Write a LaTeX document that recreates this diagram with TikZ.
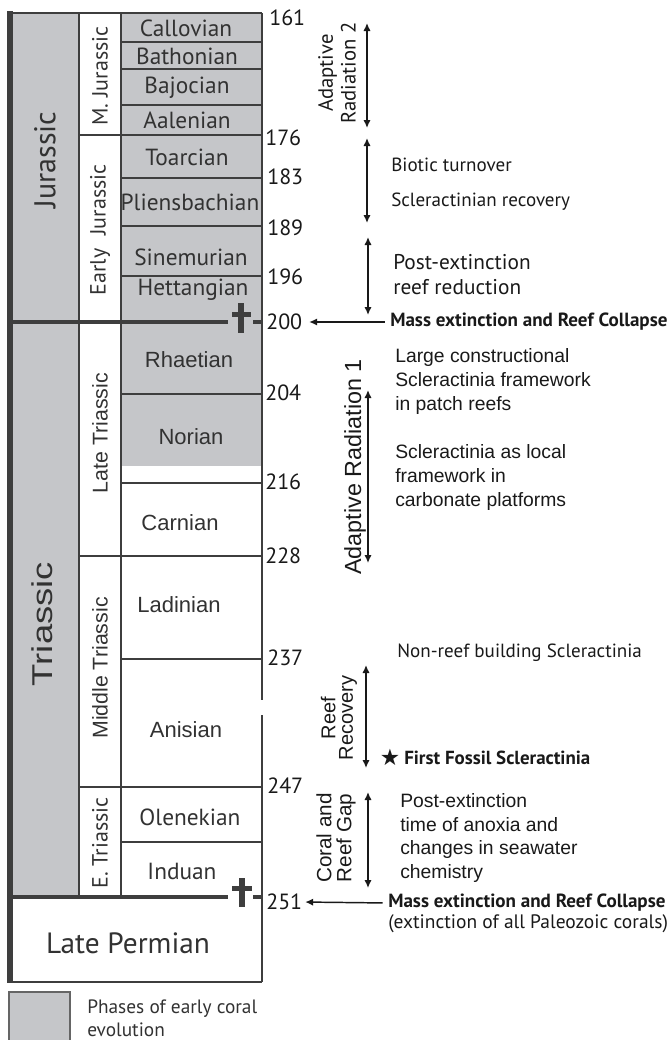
\documentclass[tikz,border=0pt]{standalone}
\usepackage{fontspec}
\setmainfont{Liberation Sans}
\newfontfamily\myr{PT Sans}
\newfontfamily\symf{DejaVu Sans}
\usetikzlibrary{arrows.meta}
\definecolor{fillg}{RGB}{197,198,201}
\definecolor{ln}{RGB}{62,62,62}
\definecolor{txt}{RGB}{50,50,50}
\definecolor{txtd}{RGB}{25,25,25}
\newcommand\fz[2]{\fontsize{#1}{#2}\selectfont}
\begin{document}
\begin{tikzpicture}[x=0.75pt,y=-0.75pt,
  myrs/.style={font=\myr\fz{17.5}{19}, text=txt, inner sep=0},
  ars/.style={font=\fz{16.5}{19}, text=txt, inner sep=0},
  num/.style={font=\myr\fz{16.5}{19}, text=txtd, anchor=west, inner sep=0},
  note/.style={font=\myr\fz{14.3}{18.5}, text=txtd, anchor=west, inner sep=0, align=left},
  anote/.style={font=\fz{14.5}{17.8}, text=txtd, anchor=west, inner sep=0, align=left},
  bnote/.style={font=\myr\bfseries\fz{14.3}{17}, text=txtd, anchor=west, inner sep=0},
  rlab/.style={rotate=90, align=center, text=txtd, inner sep=0},
  bline/.style={draw=ln, line width=1.5pt},
  kline/.style={draw=ln, line width=2.3pt},
  darr/.style={{Latex[length=6pt,width=5.5pt]}-{Latex[length=6pt,width=5.5pt]}, line width=1.1pt, draw=txtd},
  larr/.style={-{Latex[length=6pt,width=5.5pt]}, line width=1.1pt, draw=txtd},
]
\useasboundingbox (0,0) rectangle (671,1040);

% fills
\fill[fillg] (13,13) rectangle (79,897);
\fill[fillg] (121,13) rectangle (262,466);

% frame lines
\draw[bline] (7,13) -- (262,13);
\draw[bline] (79,13) -- (79,897);
\draw[bline] (121,13) -- (121,897);
\draw[bline] (262,13) -- (262,700);
\draw[bline] (262,715) -- (262,982);
\draw[bline] (7,982) -- (262,982);
\draw[draw=ln, line width=4.5pt] (10,11) -- (10,983);

% stage boundaries
\foreach \yy in {42,69,105,178,226,276,394,483,659,842}
  \draw[bline] (121,\yy) -- (262,\yy);
\foreach \yy in {135,556,787}
  \draw[bline] (79,\yy) -- (262,\yy);

% extinction lines and daggers
\draw[kline] (13,322) -- (228,322);
\draw[kline] (253,322) -- (262,322);
\fill[ln] (238,303) rectangle (244,333);
\fill[ln] (232,312) rectangle (251,317);
\draw[kline] (13,897) -- (228,897);
\draw[kline] (253,897) -- (262,897);
\fill[ln] (239,878) rectangle (245,907);
\fill[ln] (232,886) rectangle (252,891);

% period labels
\node[rotate=90, font=\myr\fz{22.5}{24}, text=txt, inner sep=0] (jur) at (45,160) {Jurassic};
\node[rotate=90, font=\fz{21.5}{24}, text=txt, inner sep=0] (tri) at (42,624) {\scalebox{1.27}[1]{Triassic}};
\node[myrs, font=\myr\fz{22}{24}] (perm) at (128,943) {Late Permian};

% epoch labels
\node[myrs, font=\myr\fz{16.5}{19}, rotate=90] (mjur) at (100,76) {M. Jurassic};
\node[myrs, font=\myr\fz{16.5}{19}, rotate=90] (ejur) at (100,230) {Early\hspace{0.6em}Jurassic};
\node[ars, font=\fz{16}{19}, rotate=90] (ltri) at (100,433) {Late Triassic};
\node[ars, font=\fz{16}{19}, rotate=90] (mtri) at (100,668) {Middle Triassic};
\node[myrs, font=\myr\fz{16.5}{19}, rotate=90] (etri) at (100,843) {E. Triassic};

% stages
\node[myrs] (callovian) at (186,28) {Callovian};
\node[myrs] (bathonian) at (187,56) {Bathonian};
\node[myrs] (bajocian) at (187,88) {Bajocian};
\node[myrs] (aalenian) at (187,120) {Aalenian};
\node[myrs] (toarcian) at (187,157) {Toarcian};
\node[myrs] (pliens) at (190,202) {Pliensbachian};
\node[myrs] (sinem) at (191,257) {Sinemurian};
\node[myrs] (hett) at (193,290) {Hettangian};
\node[ars] (rhaet) at (189,360) {Rhaetian};
\node[ars] (norian) at (191,437) {Norian};
\node[ars] (carnian) at (180,523) {Carnian};
\node[ars] (ladin) at (179,605) {Ladinian};
\node[ars] (anis) at (186,730) {Anisian};
\node[myrs] (olen) at (190,817) {Olenekian};
\node[myrs] (induan) at (182,871) {Induan};

% numbers
\node[num] (n161) at (269,18) {161};
\node[num] (n176) at (265,138) {176};
\node[num] (n183) at (267,177) {183};
\node[num] (n189) at (267,228) {189};
\node[num] (n196) at (267,277) {196};
\node[num] (n200) at (266,322) {200};
\node[num] (n204) at (265,393) {204};
\node[num] (n216) at (265,482) {216};
\node[num] (n228) at (265,556) {228};
\node[num] (n237) at (267,658) {237};
\node[num] (n247) at (267,786) {247};
\node[num] (n251) at (266,902) {251};

% right side: vertical labels
\node[rlab, font=\myr\fz{15.5}{17}] (ar2) at (337,73) {Adaptive\\Radiation 2};
\node[rlab, font=\fz{17.5}{19}] (ar1) at (355,467) {Adaptive Radiation 1};
\node[rlab, font=\fz{15}{13}] (rr) at (339,718) {Reef\\Recovery};
\node[rlab, font=\fz{15.5}{15}] (crg) at (336,838) {Coral and\\Reef Gap};

% double arrows
\coordinate (a1t) at (367,23);  \coordinate (a1b) at (367,128);
\coordinate (a2t) at (367,138); \coordinate (a2b) at (367,223);
\coordinate (a3t) at (368,237); \coordinate (a3b) at (368,315);
\coordinate (a4t) at (368,390); \coordinate (a4b) at (368,563);
\coordinate (a5t) at (366,665); \coordinate (a5b) at (366,768);
\coordinate (a6t) at (368,792); \coordinate (a6b) at (368,888);
\draw[darr] (a1t) -- (a1b);
\draw[darr] (a2t) -- (a2b);
\draw[darr] (a3t) -- (a3b);
\draw[darr] (a4t) -- (a4b);
\draw[darr] (a5t) -- (a5b);
\draw[darr] (a6t) -- (a6b);

% right side notes
\node[note] (biotic) at (391,165) {Biotic turnover};
\node[note] (sclrec) at (391,202) {Scleractinian recovery};
\node[note, font=\myr\fz{16}{18.8}] (postex1) at (393,274.5) {Post-extinction\\reef reduction};
\node[bnote] (mass1) at (390,322) {Mass extinction and Reef Collapse};
\node[anote] (large) at (395,381.5) {Large constructional\\Scleractinia framework\\in patch reefs};
\node[anote] (local) at (395,477.5) {Scleractinia as local\\framework in\\carbonate platforms};
\node[note] (nonreef) at (397,653) {Non-reef building Scleractinia};
\node[font=\symf\fz{17}{17}, text=txtd, inner sep=0] (star) at (390,757) {★};
\node[bnote, font=\myr\bfseries\fz{14.2}{17}] (first) at (404,758) {First Fossil Scleractinia};
\node[anote] (postex2) at (400,838) {Post-extinction\\time of anoxia and\\changes in seawater\\chemistry};
\node[bnote] (mass2) at (388,903) {Mass extinction and Reef Collapse};
\node[note, font=\myr\fz{14.6}{17}] (paleo) at (388,924) {(extinction of all Paleozoic corals)};

% extinction arrows
\draw[larr, shorten <=4pt, shorten >=5pt] (mass1.west) -- (n200.east);
\draw[larr, shorten <=4pt, shorten >=2pt] (mass2.west) -- (n251.east);

% legend
\fill[fillg] (9,992) rectangle (70,1041);
\draw[draw=ln!80, line width=1.3pt] (9,1042) |- (70,992) -- (70,1042);
\node[note, font=\myr\fz{14.5}{17}, text=txt] (legend) at (87,1018) {Phases of early coral\\evolution};
\end{tikzpicture}
\end{document}
